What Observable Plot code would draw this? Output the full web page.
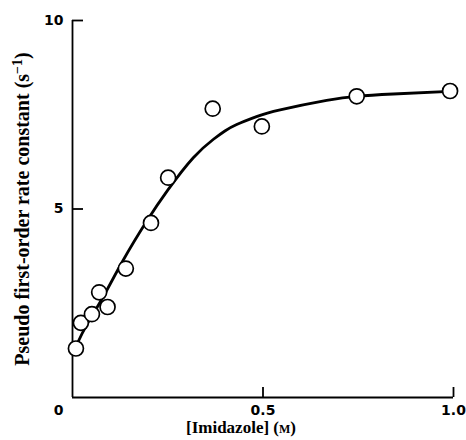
<!DOCTYPE html>
<html>
<head>
<meta charset="utf-8">
<script src="https://cdn.jsdelivr.net/npm/d3@7"></script>
<script src="https://cdn.jsdelivr.net/npm/@observablehq/plot@0.6"></script>
<style>
  html, body { margin: 0; padding: 0; background: #fff; }
  #chart svg { display: block; }
</style>
</head>
<body>
<div id="chart"></div>
<script>
// Measured points: imidazole concentration (M) vs pseudo first-order rate constant (s^-1)
const imidazole = [0.009, 0.022, 0.051, 0.070, 0.092, 0.140, 0.206, 0.251, 0.368, 0.497, 0.746, 0.991];
const rateConstant = [1.30, 1.98, 2.21, 2.79, 2.40, 3.42, 4.63, 5.83, 7.66, 7.19, 7.99, 8.13];

// Fitted curve
const curveX = [0.012, 0.037, 0.081, 0.133, 0.195, 0.250, 0.317, 0.370, 0.400, 0.431, 0.483, 0.545, 0.667, 0.746, 0.842, 0.990];
const curveY = [1.42, 1.92, 2.68, 3.64, 4.68, 5.50, 6.36, 6.85, 7.07, 7.24, 7.45, 7.63, 7.88, 7.99, 8.05, 8.12];

const xTicks = [0.5, 1.0];
const xTickLabels = ["0.5", "1.0"];
const originLabel = ["0"];
const yTicks = [5, 10];
const yTickLabels = ["5", "10"];
const xTitle = "[Imidazole] (M)";
const yTitle = "Pseudo first-order rate constant (s−1)";

const points = imidazole.map((x, i) => ({x, y: rateConstant[i]}));
const curve = curveX.map((x, i) => ({x, y: curveY[i]}));

const tickFont = {fontFamily: "DejaVu Sans", fontWeight: "bold", fontSize: 14};

const chart = Plot.plot({
  width: 466,
  height: 440,
  marginLeft: 72,
  marginRight: 13,
  marginTop: 20,
  marginBottom: 43,
  x: {domain: [0, 1], axis: null},
  y: {domain: [0, 10], axis: null},
  style: {background: "#fff", color: "#000"},
  marks: [
    Plot.ruleX([0], {stroke: "#000", strokeWidth: 1.8}),
    Plot.ruleY([0], {stroke: "#000", strokeWidth: 1.8}),
    Plot.axisX({ticks: xTicks, tickFormat: (d, i) => xTickLabels[i], tickSize: -10, tickPadding: 18, strokeWidth: 1.8, label: null, ...tickFont, fill: "#000"}),
    Plot.axisX({ticks: [0], tickFormat: (d, i) => originLabel[i], tickSize: 0, tickPadding: 8, dx: -14, label: null, ...tickFont, fill: "#000"}),
    Plot.axisY({ticks: yTicks, tickFormat: (d, i) => yTickLabels[i], tickSize: -11, tickPadding: 20, strokeWidth: 1.8, label: null, ...tickFont, fill: "#000"}),
    Plot.line(curve, {x: "x", y: "y", curve: "natural", stroke: "#000", strokeWidth: 2.8}),
    Plot.dot(points, {x: "x", y: "y", r: 7.5, fill: "#fff", stroke: "#000", strokeWidth: 1.7}),
    Plot.text([xTitle], {frameAnchor: "bottom", textAnchor: "middle", dx: -22, dy: 35, text: d => d, fontFamily: "Liberation Serif", fontWeight: "bold", fontSize: 17, fill: "#000", className: "xtitle"}),
    Plot.text([yTitle], {frameAnchor: "left", textAnchor: "middle", dx: -50, rotate: -90, text: d => d, fontFamily: "Liberation Serif", fontWeight: "bold", fontSize: 20, fill: "#000", className: "ytitle"})
  ]
});

// Typeset small caps M and superscript -1
const ns = "http://www.w3.org/2000/svg";
const xt = chart.querySelector(".xtitle text");
if (xt) {
  xt.textContent = "";
  const a = document.createElementNS(ns, "tspan"); a.textContent = "[Imidazole] (";
  const b = document.createElementNS(ns, "tspan"); b.textContent = "m"; b.setAttribute("style", "font-variant: small-caps");
  const c = document.createElementNS(ns, "tspan"); c.textContent = ")";
  xt.append(a, b, c);
}
const yt = chart.querySelector(".ytitle text");
if (yt) {
  yt.textContent = "";
  const a = document.createElementNS(ns, "tspan"); a.textContent = "Pseudo first-order rate constant (s";
  const b = document.createElementNS(ns, "tspan"); b.textContent = "−1"; b.setAttribute("baseline-shift", "super"); b.setAttribute("font-size", "70%");
  const c = document.createElementNS(ns, "tspan"); c.textContent = ")";
  yt.append(a, b, c);
}

document.getElementById("chart").appendChild(chart);
</script>
</body>
</html>
